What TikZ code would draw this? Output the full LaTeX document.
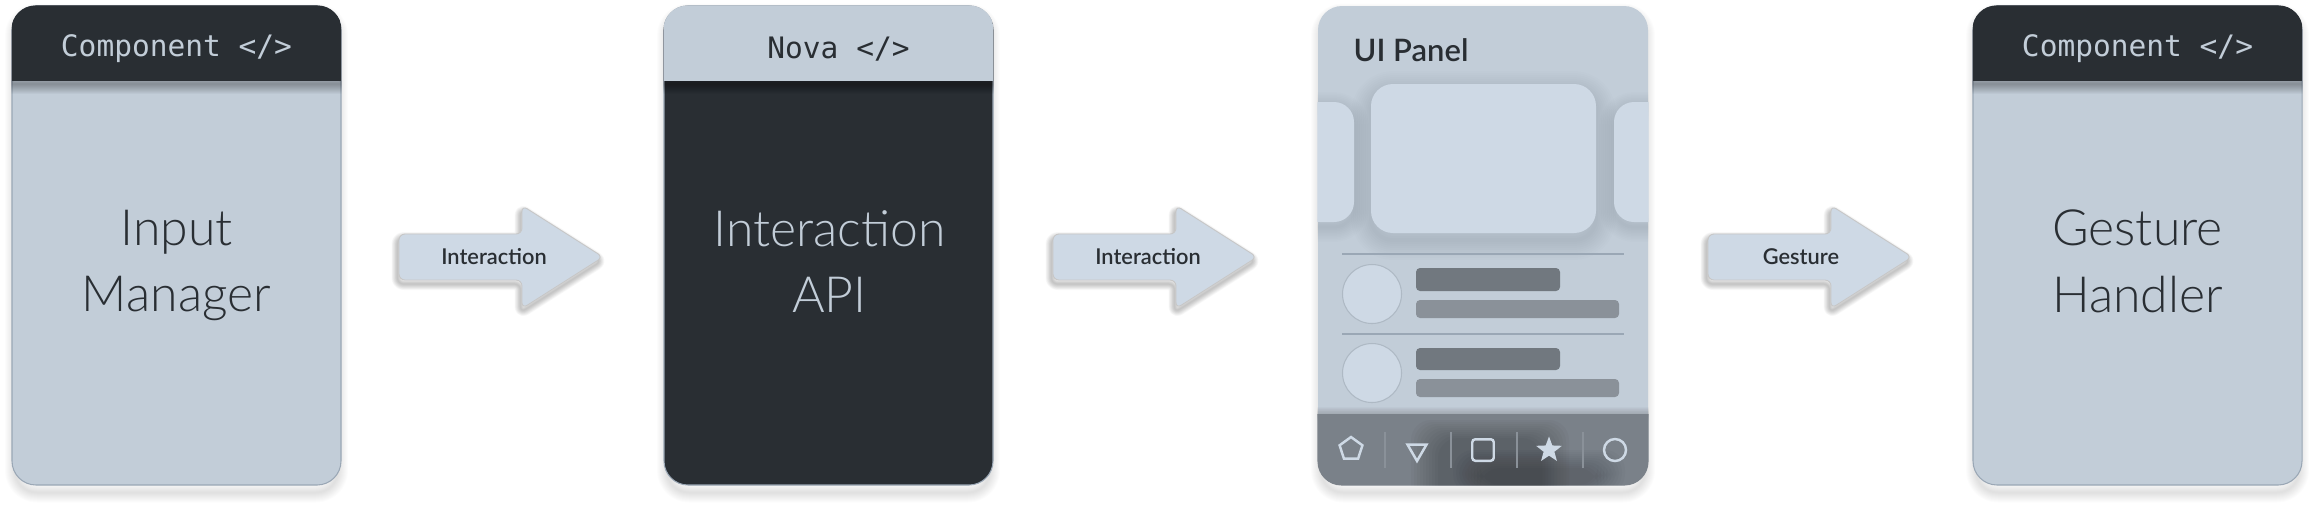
\documentclass[tikz,border=0pt]{standalone}
\usepackage{fontspec}
\setmainfont{Lato}
\setmonofont{DejaVu Sans Mono}
\newfontfamily\lightfont{Lato Light}
\newfontfamily\semifont{Lato Semibold}
\usetikzlibrary{
    shapes.geometric,
    positioning
}
\definecolor{panelgrey}{HTML}{C2CDD8}
\definecolor{inkdark}{HTML}{292E33}
\definecolor{tileblue}{HTML}{CED9E5}
\definecolor{edgegrey}{HTML}{9AA7B5}
\definecolor{barmid}{HTML}{71787F}
\definecolor{barsoft}{HTML}{8A9199}
\definecolor{dockgrey}{HTML}{7A8189}
\newcommand{\softcast}[4]{
    \foreach \k in {1,...,10} {
        \draw[black, opacity=#4, line width={#3*\k/10}, line join=round, #2] #1;
    }
}
\newcommand{\flowpath}{[rounded corners=0.06cm] (0, 0.23) -- (1.23, 0.23) -- (1.23, 0.515) -- (2.04, 0) -- (1.23, -0.515) -- (1.23, -0.23) -- (0, -0.23) -- cycle}
\tikzset{
    cardbody/.style={rectangle, rounded corners=0.24cm, minimum width=3.29cm, minimum height=4.79cm, inner sep=0pt, line width=0.3pt, draw=edgegrey},
    cardcast/.style={rounded corners=0.22cm, yshift=-0.075cm},
    headtext/.style={font=\ttfamily\fontsize{8.4}{10}\selectfont},
    bigtext/.style={font=\lightfont\fontsize{14.2}{18.8}\selectfont, align=center, execute at end node=\strut},
    flowshape/.style={fill=tileblue, draw=black!22, line width=0.25pt},
    flowlabel/.style={font=\semifont\fontsize{6.2}{8}\selectfont, text=inkdark, inner sep=0pt},
    rowline/.style={edgegrey, line width=0.35pt},
    avatar/.style={circle, fill=tileblue, draw=edgegrey!80, line width=0.3pt, minimum size=0.59cm, inner sep=0pt},
    bartop/.style={fill=barmid, rounded corners=0.04cm},
    barlow/.style={fill=barsoft, rounded corners=0.04cm},
    dockicon/.style={draw=tileblue, line width=0.7pt, inner sep=0pt},
    docksep/.style={barsoft, line width=0.3pt}
}
\begin{document}
\begin{tikzpicture}
    \fill[white] (0, 0) rectangle (23.15, -5.04);
    \useasboundingbox (0, 0) rectangle (23.15, -5.04);

    \softcast{(0.15, -0.06) rectangle (3.38, -4.85)}{cardcast}{0.2cm}{0.012}
    \node[cardbody, fill=panelgrey] (inmgr) at (1.765, -2.455) {};
    \begin{scope}
        \clip[rounded corners=0.24cm] (inmgr.south west) rectangle (inmgr.north east);
        \softcast{(0.12, -0.81) rectangle (3.41, 0)}{yshift=-0.025cm}{0.2cm}{0.03}
        \fill[inkdark] (0.12, -0.81) rectangle (3.41, 0);
    \end{scope}
    \node[headtext, text=panelgrey] (inmgrhead) at (1.765, -0.49) {Component </>};
    \node[bigtext, text=inkdark] (inmgrtext) at (1.765, -2.71) {Input\\Manager};

    \softcast{(6.67, -0.06) rectangle (9.90, -4.85)}{cardcast}{0.2cm}{0.012}
    \node[cardbody, fill=inkdark] (api) at (8.285, -2.455) {};
    \begin{scope}
        \clip[rounded corners=0.24cm] (api.south west) rectangle (api.north east);
        \softcast{(6.64, -0.81) rectangle (9.93, 0)}{yshift=-0.025cm}{0.2cm}{0.03}
        \fill[panelgrey] (6.64, -0.81) rectangle (9.93, 0);
    \end{scope}
    \node[headtext, text=inkdark] (apihead) at (8.385, -0.49) {Nova </>};
    \node[bigtext, text=panelgrey] (apitext) at (8.295, -2.71) {Interaction\\API};

    \softcast{(13.21, -0.06) rectangle (16.45, -4.85)}{cardcast}{0.2cm}{0.012}
    \node[cardbody, fill=panelgrey, draw=none, minimum width=3.30cm] (panel) at (14.83, -2.455) {};
    \begin{scope}
        \clip[rounded corners=0.24cm] (panel.south west) rectangle (panel.north east);
        \softcast{[rounded corners=0.2cm] (13.00, -1.02) rectangle (13.54, -2.22)}{yshift=-0.05cm}{0.3cm}{0.008}
        \softcast{[rounded corners=0.2cm] (16.14, -1.02) rectangle (16.70, -2.22)}{yshift=-0.05cm}{0.3cm}{0.008}
        \softcast{[rounded corners=0.22cm] (13.71, -0.84) rectangle (15.96, -2.33)}{yshift=-0.07cm}{0.4cm}{0.009}
        \fill[tileblue, rounded corners=0.2cm] (13.00, -1.02) rectangle (13.54, -2.22);
        \fill[tileblue, rounded corners=0.2cm] (16.14, -1.02) rectangle (16.70, -2.22);
        \fill[tileblue, rounded corners=0.22cm] (13.71, -0.84) rectangle (15.96, -2.33);
        \draw[rowline] (13.42, -2.54) -- (16.24, -2.54);
        \draw[rowline] (13.42, -3.34) -- (16.24, -3.34);
        \fill[bartop] (14.16, -2.68) rectangle (15.60, -2.91);
        \fill[barlow] (14.16, -3.00) rectangle (16.19, -3.18);
        \fill[bartop] (14.16, -3.48) rectangle (15.60, -3.70);
        \fill[barlow] (14.16, -3.79) rectangle (16.19, -3.97);
        \softcast{[rounded corners=0.07cm] (13.10, -4.14) rectangle (16.60, -5.2)}{}{0.14cm}{0.015}
        \fill[dockgrey, rounded corners=0.07cm] (13.10, -4.14) rectangle (16.60, -5.2);
        \foreach \k in {1,...,10} {
            \fill[black, opacity=0.025, rounded corners=0.2cm] ({14.08+0.03*\k}, {-4.18-0.02*\k}) rectangle ({15.72-0.03*\k}, -5.2);
            \fill[black, opacity=0.02, rounded corners=0.2cm] ({14.50+0.03*\k}, {-4.48-0.02*\k}) rectangle ({16.28-0.03*\k}, {-4.95+0.01*\k});
        }
    \end{scope}
    \node[font=\semifont\fontsize{8.8}{10}\selectfont, text=inkdark, anchor=base west, inner sep=0pt] (paneltitle) at (13.53, -0.61) {UI Panel};
    \node[avatar] (faceone) at (13.72, -2.94) {};
    \node[avatar] (facetwo) at (13.72, -3.73) {};
    \draw[docksep] (13.85, -4.32) -- (13.85, -4.68);
    \draw[docksep] (14.51, -4.32) -- (14.51, -4.68);
    \draw[docksep] (15.17, -4.32) -- (15.17, -4.68);
    \draw[docksep] (15.83, -4.32) -- (15.83, -4.68);
    \node[dockicon, regular polygon, regular polygon sides=5, minimum size=0.24cm] (iconpent) at (13.51, -4.49) {};
    \node[dockicon, regular polygon, regular polygon sides=3, shape border rotate=180, minimum size=0.22cm] (icontri) at (14.17, -4.50) {};
    \node[dockicon, rectangle, rounded corners=0.03cm, minimum size=0.215cm] (iconsq) at (14.83, -4.50) {};
    \node[dockicon, star, star points=5, star point ratio=2.4, minimum size=0.2cm, fill=tileblue] (iconstar) at (15.49, -4.50) {};
    \node[dockicon, circle, minimum size=0.22cm] (iconcirc) at (16.15, -4.50) {};

    \softcast{(19.76, -0.06) rectangle (22.99, -4.85)}{cardcast}{0.2cm}{0.012}
    \node[cardbody, fill=panelgrey] (gest) at (21.375, -2.455) {};
    \begin{scope}
        \clip[rounded corners=0.24cm] (gest.south west) rectangle (gest.north east);
        \softcast{(19.73, -0.81) rectangle (23.02, 0)}{yshift=-0.025cm}{0.2cm}{0.03}
        \fill[inkdark] (19.73, -0.81) rectangle (23.02, 0);
    \end{scope}
    \node[headtext, text=panelgrey] (gesthead) at (21.375, -0.49) {Component </>};
    \node[bigtext, text=inkdark] (gesttext) at (21.375, -2.71) {Gesture\\Handler};

    \softcast{\flowpath}{shift={(3.975, -2.61)}}{0.12cm}{0.022}
    \softcast{\flowpath}{shift={(10.515, -2.61)}}{0.12cm}{0.022}
    \softcast{\flowpath}{shift={(17.065, -2.61)}}{0.12cm}{0.022}
    \filldraw[flowshape, shift={(3.99, -2.57)}] \flowpath;
    \filldraw[flowshape, shift={(10.53, -2.57)}] \flowpath;
    \filldraw[flowshape, shift={(17.08, -2.57)}] \flowpath;
    \node[flowlabel] (labela) at (4.94, -2.57) {Interaction};
    \node[flowlabel] (labelb) at (11.48, -2.57) {Interaction};
    \node[flowlabel] (labelc) at (18.01, -2.57) {Gesture};
\end{tikzpicture}
\end{document}
